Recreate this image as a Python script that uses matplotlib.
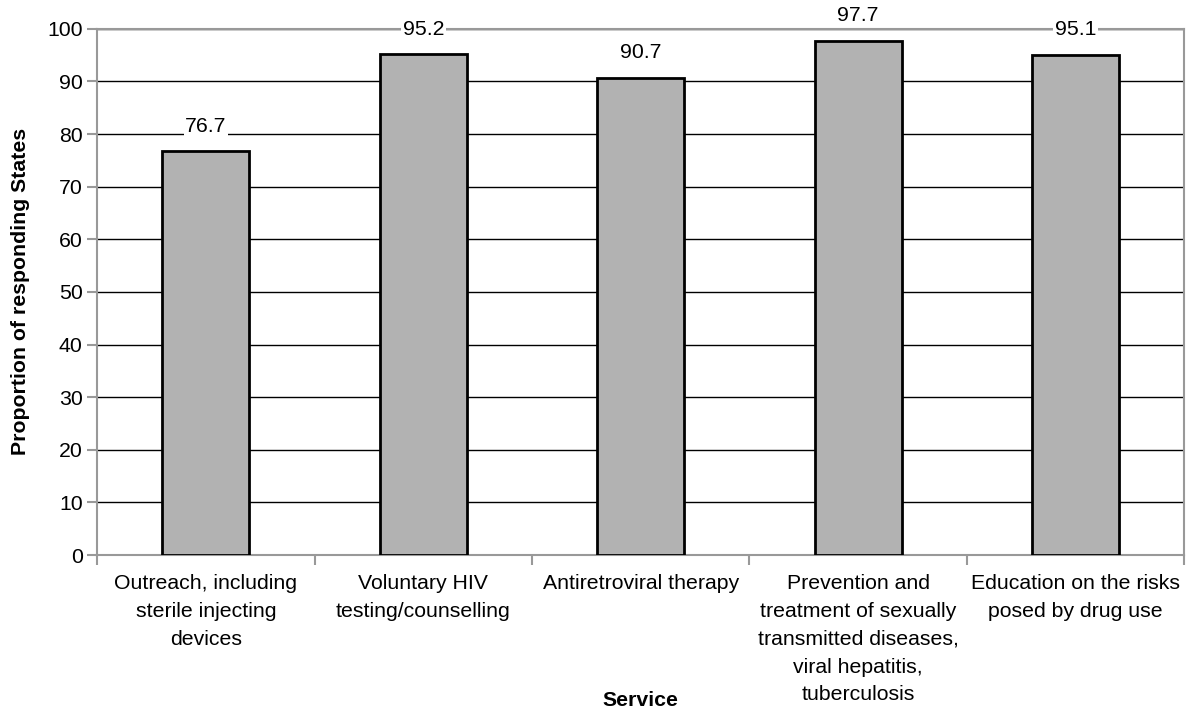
import numpy as np
import matplotlib.pyplot as plt

plt.rcParams['font.family'] = ['Liberation Sans', 'DejaVu Sans']

services = [
    "Outreach, including\nsterile injecting\ndevices",
    "Voluntary HIV\ntesting/counselling",
    "Antiretroviral therapy",
    "Prevention and\ntreatment of sexually\ntransmitted diseases,\nviral hepatitis,\ntuberculosis",
    "Education on the risks\nposed by drug use",
]
values = [76.7, 95.2, 90.7, 97.7, 95.1]
yticks = [0, 10, 20, 30, 40, 50, 60, 70, 80, 90, 100]

fs = 15.3

fig = plt.figure(figsize=(11.92, 7.12), dpi=100)
ax = fig.add_axes([0.0815, 0.2205, 0.912, 0.739])

x = np.arange(len(values))
ax.bar(x, values, width=0.4, color="#b2b2b2", edgecolor="black", linewidth=2, zorder=3)

for xi, v in zip(x, values):
    ax.annotate(f"{v:.1f}", (xi, v), xytext=(0, 18), textcoords="offset points",
                ha="center", va="center", fontsize=fs, zorder=4,
                bbox=dict(facecolor="white", edgecolor="none", pad=1))

ax.set_xlim(-0.5, len(values) - 0.5)
ax.set_ylim(0, 100)
ax.set_yticks(yticks)
ax.yaxis.grid(True, color="black", linewidth=1, zorder=0)
ax.set_axisbelow(True)

ax.set_xticks(x)
ax.set_xticklabels(services, fontsize=fs, linespacing=1.58)
ax.tick_params(axis="x", length=0, pad=14)
ax.set_xticks(np.arange(len(values) + 1) - 0.5, minor=True)
ax.tick_params(axis="x", which="minor", length=7, color="#999999", width=1.5)
ax.tick_params(axis="y", labelsize=fs, length=7, color="#999999", width=1.5)

for s in ax.spines.values():
    s.set_color("#999999")
    s.set_linewidth(1.5)

ax.set_ylabel("Proportion of responding States", fontsize=fs, fontweight="bold")
ax.yaxis.set_label_coords(-0.0615, 0.5)
ax.set_xlabel("Service", fontsize=fs, fontweight="bold")
ax.xaxis.set_label_coords(0.5, -0.276)
ax.xaxis.label.set_va("center")

fig.savefig("out.png", dpi=100)
